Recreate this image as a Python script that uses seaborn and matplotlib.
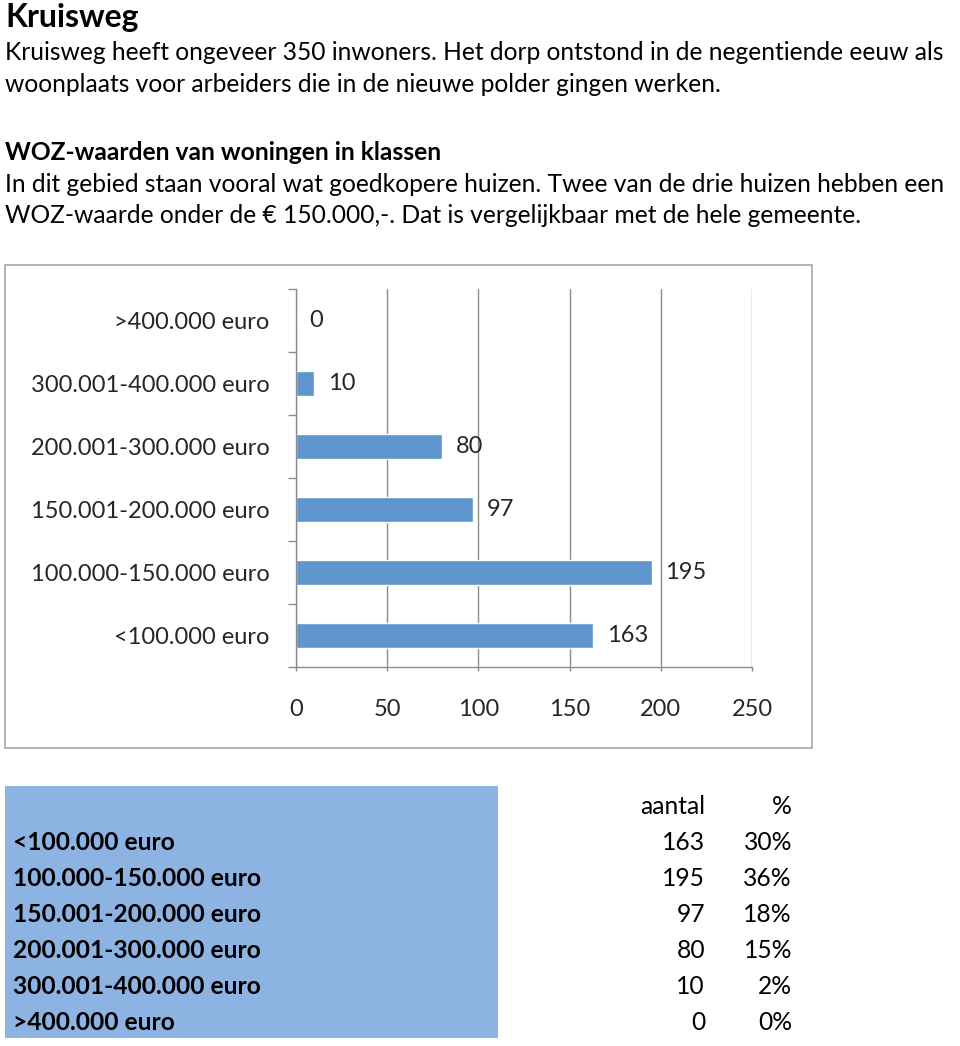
import numpy as np
import pandas as pd
import seaborn as sns
import matplotlib.pyplot as plt
from matplotlib.patches import Rectangle

# data
categories = [">400.000 euro", "300.001-400.000 euro", "200.001-300.000 euro",
              "150.001-200.000 euro", "100.000-150.000 euro", "<100.000 euro"]
aantal = [0, 10, 80, 97, 195, 163]

table_labels = ["<100.000 euro", "100.000-150.000 euro", "150.001-200.000 euro",
                "200.001-300.000 euro", "300.001-400.000 euro", ">400.000 euro"]
table_aantal = [163, 195, 97, 80, 10, 0]
table_pct = ["30%", "36%", "18%", "15%", "2%", "0%"]

x_ticks = [0, 50, 100, 150, 200, 250]

sns.set_theme(style="white")
plt.rcParams['font.family'] = ['Lato', 'DejaVu Sans']

W, H = 960, 1046
fig = plt.figure(figsize=(W / 100, H / 100), dpi=100)


def fx(px):
    return px / W


def fy(py):
    return 1 - py / H


def txt(x, y, s, size=17.7, weight="normal", ha="left"):
    fig.text(fx(x), fy(y), s, fontsize=size, fontweight=weight, ha=ha, va="center", color="black")


# header text
txt(5, 17, "Kruisweg", size=23, weight="bold")
txt(5, 53, "Kruisweg heeft ongeveer 350 inwoners. Het dorp ontstond in de negentiende eeuw als")
txt(5, 85, "woonplaats voor arbeiders die in de nieuwe polder gingen werken.")
txt(5, 152, "WOZ-waarden van woningen in klassen", weight="bold")
txt(5, 184, "In dit gebied staan vooral wat goedkopere huizen. Twee van de drie huizen hebben een")
txt(5, 216, "WOZ-waarde onder de \u20ac 150.000,-. Dat is vergelijkbaar met de hele gemeente.")

# chart frame
fig.patches.append(Rectangle((fx(5), fy(748)), fx(812 - 5), (748 - 265) / H,
                             transform=fig.transFigure, fill=False,
                             edgecolor="#a6a6a6", linewidth=1.2))

ax = fig.add_axes([fx(296), fy(667), fx(752 - 296), (667 - 289) / H])
df = pd.DataFrame({"klasse": categories, "aantal": aantal})
sns.barplot(data=df, x="aantal", y="klasse", order=categories, color="#5F95CD",
            width=0.4, saturation=1, ax=ax)

ax.set_xlim(0, 250)
ax.set_ylim(5.5, -0.5)
ax.set_xlabel("")
ax.set_ylabel("")
ax.set_xticks(x_ticks)
ax.set_xticklabels([str(t) for t in x_ticks], fontsize=17)
ax.tick_params(axis="x", length=3, width=1, color="#8c8c8c", pad=20, bottom=True)

ax.set_yticks(np.arange(-0.5, 6, 1))
ax.set_yticklabels([])
ax.set_yticks(np.arange(len(categories)), minor=True)
ax.set_yticklabels(categories, minor=True, fontsize=17)
ax.tick_params(axis="y", which="major", length=6, width=1, color="#8c8c8c", left=True)
ax.tick_params(axis="y", which="minor", length=0, pad=19)

ax.grid(axis="x", color="#8c8c8c", linewidth=1)
ax.set_axisbelow(True)
for s in ["top", "right"]:
    ax.spines[s].set_visible(False)
for s in ["left", "bottom"]:
    ax.spines[s].set_color("#8c8c8c")
    ax.spines[s].set_linewidth(1)

for i, v in enumerate(aantal):
    ax.text(v + 7.5, i, str(v), fontsize=17, va="center", ha="left")

# table
fig.patches.append(Rectangle((fx(5), fy(1038)), fx(498 - 5), (1038 - 786) / H,
                             transform=fig.transFigure, facecolor="#8DB3E2",
                             edgecolor="none"))
txt(705, 806, "aantal", ha="right")
txt(792, 806, "%", ha="right")
for i, (lab, n, p) in enumerate(zip(table_labels, table_aantal, table_pct)):
    y = 842 + i * 36
    txt(13, y, lab, weight="bold")
    txt(705, y, str(n), ha="right")
    txt(792, y, p, ha="right")

fig.savefig("out.png", dpi=100)
